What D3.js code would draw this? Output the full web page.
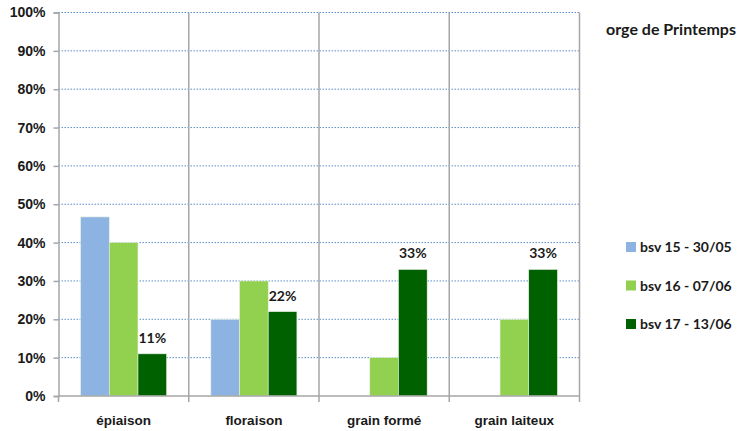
<!DOCTYPE html>
<html lang="fr">
<head>
<meta charset="UTF-8">
<title>orge de Printemps</title>
<style>
  body { margin: 0; padding: 0; background: #fff; }
  svg { display: block; font-family: Lato, "Open Sans", sans-serif; font-weight: bold; }
  .grid line { stroke: #5b8fc9; stroke-dasharray: 1.5 1.5; stroke-width: 1; }
  .sep { stroke: #a6a6a6; stroke-width: 1.5; }
  .axis path, .axis line { stroke: #a6a6a6; stroke-width: 1.5; }
  .axis text { fill: #1a1a1a; font-size: 14px; font-weight: bold; }
</style>
</head>
<body>
<div id="chart"></div>
<script src="https://d3js.org/d3.v7.min.js"></script>
<script>
// stades de la culture
const stages = ["épiaison", "floraison", "grain formé", "grain laiteux"];
// séries (bulletins)
const seriesNames = ["bsv 15 - 30/05", "bsv 16 - 07/06", "bsv 17 - 13/06"];
const bsv15 = [0.467, 0.20, null, null];
const bsv16 = [0.40, 0.30, 0.10, 0.20];
const bsv17 = [0.11, 0.22, 0.33, 0.33];
const yTicks = [0, 0.1, 0.2, 0.3, 0.4, 0.5, 0.6, 0.7, 0.8, 0.9, 1];
const colors = ["#8db3e2", "#92d050", "#006100"];

const allSeries = [bsv15, bsv16, bsv17];

const W = 747, H = 431;
const mLeft = 58.5, mRight = 579.5, mTop = 12.5, mBottom = 396;

const svg = d3.select("#chart").append("svg")
    .attr("width", W).attr("height", H);

const x = d3.scaleBand().domain(stages).range([mLeft, mRight]).padding(0);
const xs = d3.scaleBand().domain(d3.range(seriesNames.length))
    .range([0, x.bandwidth()]).paddingInner(0).paddingOuter(0.77);
const y = d3.scaleLinear().domain([0, 1]).range([mBottom, mTop]);

// gridlines
svg.append("g").attr("class", "grid")
  .selectAll("line").data(yTicks.filter(d => d > 0)).enter().append("line")
    .attr("x1", mLeft).attr("x2", mRight)
    .attr("y1", d => y(d)).attr("y2", d => y(d));

// category separators
svg.append("g").selectAll("line").data(stages).enter().append("line")
    .attr("class", "sep")
    .attr("x1", d => x(d) + x.bandwidth())
    .attr("x2", d => x(d) + x.bandwidth())
    .attr("y1", mTop).attr("y2", mBottom + 6);

// bars
const bars = [];
stages.forEach((s, i) => {
  allSeries.forEach((ser, k) => {
    if (ser[i] != null) bars.push({ stage: s, k, v: ser[i] });
  });
});

svg.append("g").selectAll("rect").data(bars).enter().append("rect")
    .attr("x", d => x(d.stage) + xs(d.k))
    .attr("y", d => y(d.v))
    .attr("width", xs.bandwidth())
    .attr("height", d => mBottom - y(d.v))
    .attr("fill", d => colors[d.k])
    .attr("stroke", "#e8f0e0")
    .attr("stroke-width", 0.6);

// data labels on last series
svg.append("g").selectAll("text").data(bars.filter(d => d.k === 2)).enter().append("text")
    .attr("x", d => x(d.stage) + xs(d.k) + xs.bandwidth() / 2)
    .attr("y", d => y(d.v) - 11)
    .attr("text-anchor", "middle")
    .attr("font-size", 14)
    .attr("fill", "#1a1a1a")
    .text(d => d3.format(".0%")(d.v));

// y axis
svg.append("g").attr("class", "axis")
    .attr("transform", `translate(${mLeft},0)`)
    .call(d3.axisLeft(y).tickValues(yTicks).tickFormat(d3.format(".0%")).tickSizeOuter(0).tickSize(5).tickPadding(8));

// x axis
const xAxis = svg.append("g").attr("class", "axis")
    .attr("transform", `translate(0,${mBottom})`)
    .call(d3.axisBottom(x).tickSize(0).tickPadding(19).tickSizeOuter(0));
xAxis.select(".domain").attr("d", `M${mLeft},0H${mRight}`);
xAxis.selectAll(".tick text").style("font-size", "13.5px");
xAxis.append("line").attr("x1", mLeft).attr("x2", mLeft).attr("y1", 0).attr("y2", 6);

// title
svg.append("text")
    .attr("x", 606).attr("y", 35)
    .attr("font-size", 16)
    .attr("fill", "#1a1a1a")
    .text("orge de Printemps");

// legend
const legend = svg.append("g").selectAll("g").data(seriesNames).enter().append("g")
    .attr("transform", (d, i) => `translate(626,${242 + i * 38.5})`);
legend.append("rect").attr("width", 10).attr("height", 10)
    .attr("fill", (d, i) => colors[i]);
legend.append("text").attr("x", 14).attr("y", 10)
    .attr("font-size", 14).attr("fill", "#1a1a1a")
    .text(d => d);
</script>
</body>
</html>
